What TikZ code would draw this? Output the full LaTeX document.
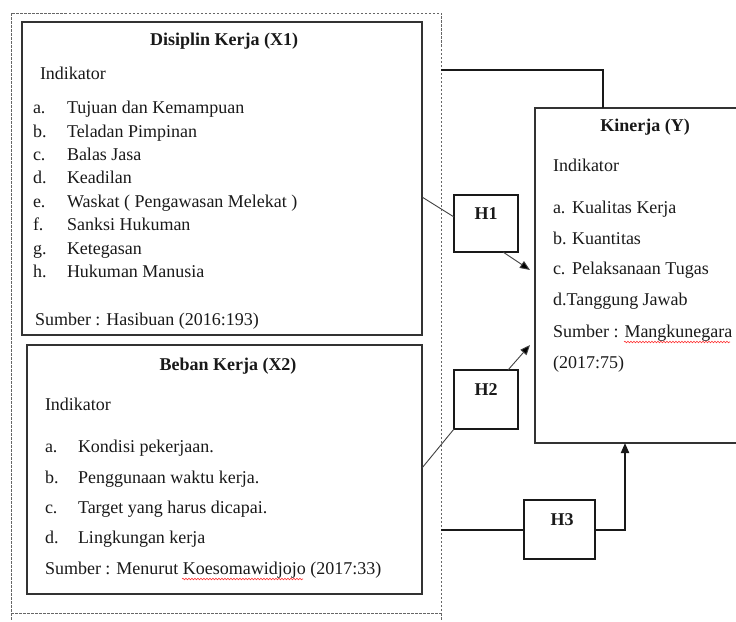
\documentclass[tikz,border=0pt]{standalone}
\usepackage{fontspec}
\setmainfont{Liberation Serif}
\usetikzlibrary{
    arrows.meta,
    decorations.pathmorphing,
    positioning
}
\tikzset{
    every picture/.style = {
        x = 1pt,
        y = -1pt,
        > = {Triangle[length=10pt, width=8pt]}
    },
    every node/.style = {
        inner sep = 0pt,
        outer sep = 0pt,
        font = \fontsize{18}{22}\selectfont,
        text = black!90
    },
    txt/.style = {anchor = base west},
    ttl/.style = {anchor = base, font = \fontsize{18}{22}\selectfont\bfseries},
    varbox/.style = {draw = black!80, line width = 1.3pt},
    hbox/.style = {draw = black!90, line width = 2.4pt},
    outerbox/.style = {draw = black!60, line width = 0.9pt, dash pattern = on 2.5pt off 1.5pt},
    conn/.style = {draw = black!90, line width = 2pt},
    thinconn/.style = {draw = black!75, line width = 0.9pt},
    spell/.style = {draw = red!80, line width = 0.6pt,
        decorate, decoration = {snake, amplitude = 0.8pt, segment length = 3pt}}
}

\begin{document}
\begin{tikzpicture}
    \useasboundingbox (0,0) rectangle (736,621);

    % outer dashed frame
    \node[outerbox, minimum width=430pt, minimum height=600pt] (outer) at (226,313) {};
    \draw[outerbox] (outer.south west) -- ++(0,8);
    \draw[outerbox] (outer.south east) -- ++(0,8);

    % variable boxes
    \node[varbox, minimum width=400pt, minimum height=313pt] (x1) at (222,178.5) {};
    \node[varbox, minimum width=395pt, minimum height=249pt] (x2) at (224.5,469.5) {};
    \node[varbox, minimum width=225pt, minimum height=335pt] (y) at (647.5,275.5) {};

    % hypothesis boxes
    \node[hbox, minimum width=64pt, minimum height=57pt] (h1) at (486,223.5) {};
    \node[hbox, minimum width=64pt, minimum height=59pt] (h2) at (486,399.5) {};
    \node[hbox, minimum width=71pt, minimum height=59pt] (h3) at (559.5,529.5) {};
    \path (486,219) node[ttl] (h1lbl) {H1};
    \path (486,395) node[ttl] (h2lbl) {H2};
    \path (562,525) node[ttl] (h3lbl) {H3};

    % Disiplin Kerja (X1)
    \path (224,45) node[ttl] (x1ttl) {Disiplin Kerja (X1)};
    \path (40,79) node[txt] (x1ind) {Indikator};
    \foreach \lab/\item/\yy [count=\i] in {
        a./Tujuan dan Kemampuan/113,
        b./Teladan Pimpinan/137,
        c./Balas Jasa/160,
        d./Keadilan/183,
        e./Waskat ( Pengawasan Melekat )/207,
        f./Sanksi Hukuman/230,
        g./Ketegasan/254,
        h./Hukuman Manusia/277} {
        \path (33,\yy) node[txt] (x1l\i) {\lab};
        \path (67,\yy) node[txt] (x1t\i) {\item};
    }
    \path (35,325) node[txt] (x1src) {Sumber : Hasibuan (2016:193)};

    % Beban Kerja (X2)
    \path (228,370) node[ttl] (x2ttl) {Beban Kerja (X2)};
    \path (45,410) node[txt] (x2ind) {Indikator};
    \foreach \lab/\item/\yy [count=\i] in {
        a./Kondisi pekerjaan./452,
        b./Penggunaan waktu kerja./483,
        c./Target yang harus dicapai./513,
        d./Lingkungan kerja/543} {
        \path (45,\yy) node[txt] (x2l\i) {\lab};
        \path (78,\yy) node[txt] (x2t\i) {\item};
    }
    \path (45,574) node[txt] (x2src) {Sumber : Menurut Koesomawidjojo (2017:33)};
    \draw[spell] (182,579) -- (303,579);

    % Kinerja (Y)
    \path (645,131) node[ttl] (yttl) {Kinerja (Y)};
    \path (553,171) node[txt] (yind) {Indikator};
    \foreach \lab/\item/\yy [count=\i] in {
        a./Kualitas Kerja/213,
        b./Kuantitas/244,
        c./Pelaksanaan Tugas/274} {
        \path (553,\yy) node[txt] (yl\i) {\lab};
        \path (572,\yy) node[txt] (yt\i) {\item};
    }
    \path (553,305) node[txt] (yl4) {d.Tanggung Jawab};
    \path (553,337) node[txt] (ysrc) {Sumber : Mangkunegara};
    \path (553,368) node[txt] (yyear) {(2017:75)};
    \draw[spell] (624,342) -- (730,342);

    % connectors
    \coordinate (c1) at (outer.east |- 0,70);
    \coordinate (c3) at (outer.east |- h3.west);
    \coordinate (h1tip) at (530,270);
    \coordinate (h2tip) at (530,345);
    \coordinate (h3bend) at (625,529.5);

    \draw[conn] (c1) -| ([xshift=-44.5pt]y.north);
    \draw[thinconn] ([yshift=-18.5pt]x1.east) -- ([yshift=6.5pt]h1.west);
    \draw[thinconn, ->, -{Triangle[length=10pt, width=8pt, fill=black]}] ([xshift=17pt]h1.south) -- (h1tip);
    \draw[thinconn] ([yshift=1.5pt]x2.east) -- (h2.south west);
    \draw[thinconn, -{Triangle[length=10pt, width=8pt, fill=black]}] ([xshift=22pt]h2.north) -- (h2tip);
    \draw[conn] (c3) -- (h3.west);
    \draw[conn, ->] (h3.east) -- (h3bend) -- (y.south -| h3bend);
\end{tikzpicture}
\end{document}
